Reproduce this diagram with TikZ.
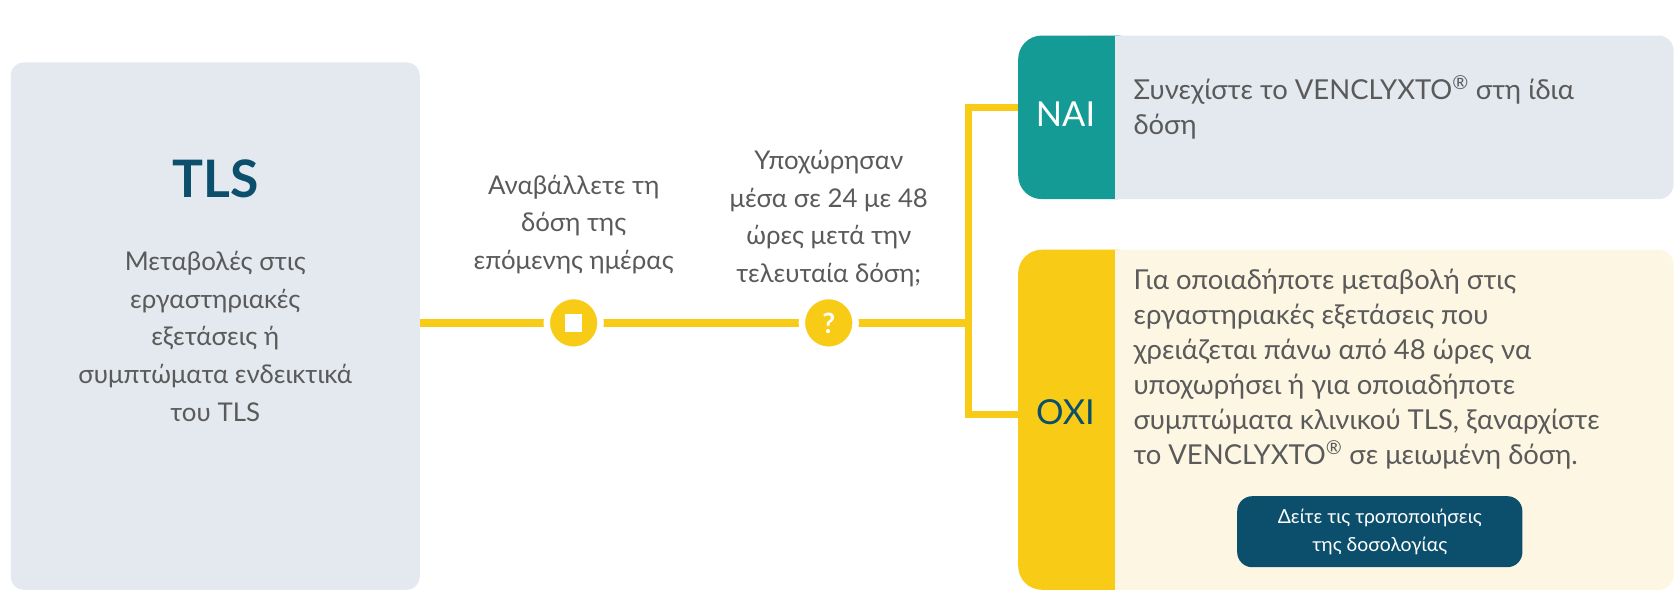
\documentclass[tikz,border=0pt]{standalone}
\usepackage{fontspec}
\setmainfont{Lato}
\definecolor{ylw}{HTML}{F8CB16}
\definecolor{teal1}{HTML}{149B96}
\definecolor{dteal}{HTML}{0B4F6C}
\definecolor{pale}{HTML}{E3E9EF}
\definecolor{cream}{HTML}{FDF6E3}
\definecolor{txt}{HTML}{5A5A5A}
\newcommand{\reg}{\textsuperscript{®}}
\begin{document}
\begin{tikzpicture}[x=1pt,y=-1pt,
  body/.style={text=txt,font=\fontsize{24}{35}\selectfont,align=center},
  rbody/.style={text=txt,font=\fontsize{25.5}{32.5}\selectfont,align=left,anchor=north west,inner sep=0},
  ln/.style={ylw,line width=7pt},
  dot/.style={circle,fill=ylw,minimum size=50pt,inner sep=0,draw=white,line width=6pt}]
\useasboundingbox (0,0) rectangle (1560,557);
% TLS box
\fill[pale,rounded corners=12pt] (10,58) rectangle (390,548);
\node[text=dteal,font=\fontsize{48}{50}\selectfont\bfseries] (tls) at (200,166) {TLS};
\node[body,anchor=north] (tlst) at (200,230) {Μεταβολές στις\\εργαστηριακές\\εξετάσεις ή\\συμπτώματα ενδεικτικά\\του TLS};
% main line
\coordinate (s) at (390,300);
\coordinate (j) at (900,300);
\draw[ln] (s) -- (j);
\node[dot] (d1) at (533,300) {};
\fill[white] ([xshift=-8pt,yshift=-8pt]d1.center) rectangle ([xshift=8pt,yshift=8pt]d1.center);
\node[dot,text=white,font=\fontsize{26}{26}\selectfont\bfseries] (d2) at (770,300) {?};
\node[body,anchor=south] (t1) at (533,258) {Αναβάλλετε τη\\δόση της\\επόμενης ημέρας};
\node[body,anchor=south] (t2) at (770,270) {Υποχώρησαν\\μέσα σε 24 με 48\\ώρες μετά την\\τελευταία δόση;};
% branch
\coordinate (ya) at (900,100);
\coordinate (yb) at (900,385);
\draw[ln] (950,100) -- (ya) -- (yb) -- (950,385);
% NAI box
\fill[pale,rounded corners=14pt] (1000,33) rectangle (1555,185);
\fill[teal1,rounded corners=22pt] (946,33) rectangle (1060,185);
\fill[pale] (1036,33) rectangle (1060,185);
\node[text=white,font=\fontsize{32}{32}\selectfont] (nai) at (990,106) {NAI};
\node[rbody] (naitxt) at (1053,70) {Συνεχίστε το VENCLYXTO\reg{} στη ίδια\\δόση};
% OXI box
\fill[cream,rounded corners=14pt] (1000,232) rectangle (1555,548);
\fill[ylw,rounded corners=22pt] (946,232) rectangle (1060,548);
\fill[cream] (1036,232) rectangle (1060,548);
\node[text=dteal,font=\fontsize{32}{32}\selectfont] (oxi) at (990,383) {OXI};
\node[rbody] (oxitxt) at (1053,250) {Για οποιαδήποτε μεταβολή στις\\εργαστηριακές εξετάσεις που\\χρειάζεται πάνω από 48 ώρες να\\υποχωρήσει ή για οποιαδήποτε\\συμπτώματα κλινικού TLS, ξαναρχίστε\\το VENCLYXTO\reg{} σε μειωμένη δόση.};
\node[fill=dteal,rounded corners=14pt,minimum width=265pt,minimum height=66pt,text=white,align=center,font=\fontsize{18}{26}\selectfont] (btn) at (1282,494) {Δείτε τις τροποποιήσεις\\της δοσολογίας};
\end{tikzpicture}
\end{document}
